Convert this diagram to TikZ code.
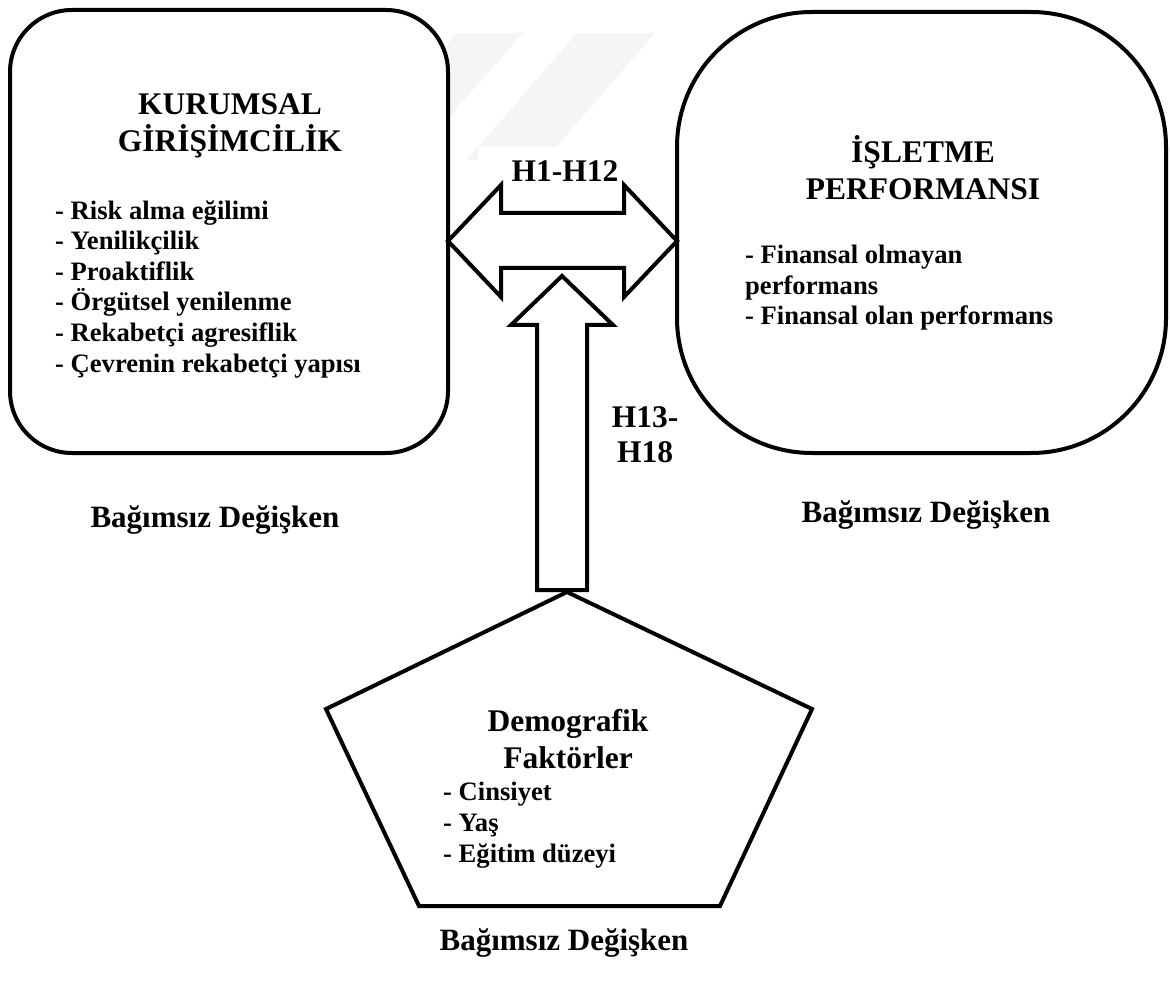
\documentclass[tikz,border=0pt]{standalone}
\usepackage{fontspec}
\setmainfont{Liberation Serif}
\usetikzlibrary{calc}
\begin{document}
\begin{tikzpicture}[x=1pt,y=-1pt,
  outline/.style={draw=black, line width=4pt, fill=white, outer sep=0pt},
  blockarrow/.style={draw=black, line width=4pt, fill=white, line join=miter},
  titletext/.style={font=\fontsize{31.5}{37}\selectfont\bfseries, align=center, inner sep=0pt},
  listtext/.style={font=\fontsize{26.6}{30.6}\selectfont\bfseries, align=left, inner sep=0pt},
  hlabel/.style={font=\fontsize{31.5}{35}\selectfont\bfseries, align=center, inner sep=0pt},
  varlabel/.style={font=\fontsize{31}{36}\selectfont\bfseries, inner sep=0pt},
  wm/.style={fill=black!4}
]
\useasboundingbox (0,0) rectangle (1170,984);
\fill[white] (0,0) rectangle (1170,984);

% faint background stripes
\fill[wm] (457,33) -- (523,33) -- (420,150) -- (354,150) -- cycle;
\fill[wm] (577,33) -- (655,33) -- (545,160) -- (467,160) -- cycle;

% the two construct boxes
\node[outline, rounded corners=62pt, minimum width=438pt, minimum height=443pt] (kg) at (229,231.5) {};
\node[outline, rounded corners=135pt, minimum width=489pt, minimum height=441pt] (ip) at (921.5,232.5) {};

% multi-line texts are anchored on the baseline of their last line
\node[titletext, anchor=base] (kgt) at (230,152) {KURUMSAL\\GİRİŞİMCİLİK};
\node[listtext, anchor=base west] (kgl) at (55,372) {- Risk alma eğilimi\\- Yenilikçilik\\- Proaktiflik\\- Örgütsel yenilenme\\- Rekabetçi agresiflik\\- Çevrenin rekabetçi yapısı};

\node[titletext, anchor=base] (ipt) at (923,200) {İŞLETME\\PERFORMANSI};
\node[listtext, anchor=base west] (ipl) at (745,325) {- Finansal olmayan\\performans\\- Finansal olan performans};

% hypothesis label over the two-way arrow
\node[hlabel, fill=white, inner xsep=34pt, inner ysep=14pt, anchor=base] (h1) at (565,182) {H1-H12};

% two-way block arrow between the boxes
\coordinate (lt) at (kg.east |- 0,241);
\coordinate (rt) at (ip.west |- 0,241);
\draw[blockarrow] (lt) -- ++(53,-56) -- ++(0,28) -- ($(rt)+(-53,-28)$) -- ++(0,-28)
  -- (rt) -- ++(-53,56) -- ++(0,-29) -- ($(lt)+(53,27)$) -- ++(0,29) -- cycle;

% demographic factors pentagon
\coordinate (pt) at (567,592);
\coordinate (pr) at (812,709);
\coordinate (pbr) at (720,906);
\coordinate (pbl) at (419,906);
\coordinate (pl) at (326,709);
\draw[outline, line join=miter] (pt) -- (pr) -- (pbr) -- (pbl) -- (pl) -- cycle;

\node[titletext, anchor=base] (dft) at (568,768) {Demografik\\Faktörler};
\node[listtext, anchor=base west] (dfl) at (443,862) {- Cinsiyet\\- Yaş\\- Eğitim düzeyi};

% upward block arrow from the pentagon
\coordinate (ut) at (562,276);
\coordinate (ub) at (562,590);
\draw[blockarrow] (ut) -- ++(51,49) -- ++(-26,0) -- ($(ub)+(25,0)$) -- ($(ub)+(-25,0)$)
  -- ($(ut)+(-25,49)$) -- ++(-26,0) -- cycle;

\node[hlabel, anchor=base] (h13) at (645,462) {H13-\\H18};

% variable type captions
\node[varlabel, anchor=base] (lv) at (215,527) {Bağımsız Değişken};
\node[varlabel, anchor=base] (rv) at (926,522) {Bağımsız Değişken};
\node[varlabel, anchor=base] (bv) at (564,950) {Bağımsız Değişken};
\end{tikzpicture}
\end{document}
